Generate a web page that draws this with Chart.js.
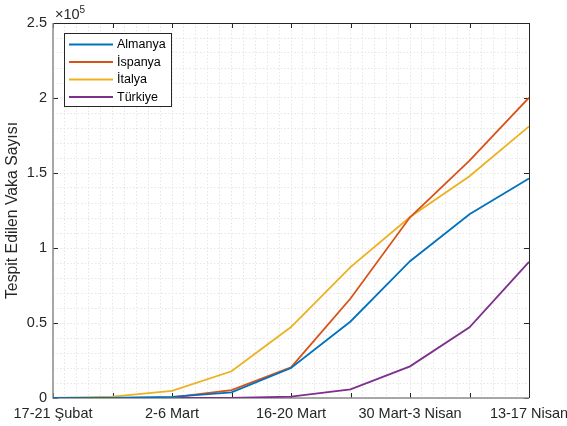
<!DOCTYPE html>
<html>
<head>
<meta charset="utf-8">
<script src="https://cdn.jsdelivr.net/npm/chart.js@4.4.1/dist/chart.umd.min.js"></script>
<style>
  html, body { margin: 0; padding: 0; background: #fff; }
  #wrap { width: 567px; height: 426px; }
</style>
</head>
<body>
<div id="wrap"><canvas id="chart"></canvas></div>
<script>
// Weekly periods (x axis)
const weeks = ["17-21 Şubat", "24-28 Şubat", "2-6 Mart", "9-13 Mart", "16-20 Mart",
    "23-27 Mart", "30 Mart-3 Nisan", "6-10 Nisan", "13-17 Nisan"];

// Confirmed cases
const almanya = [16, 60, 800, 3800, 20000, 51000, 91200, 122500, 146300];
const ispanya = [2, 30, 400, 5300, 20400, 66300, 120500, 158300, 200200];
const italya  = [3, 900, 4700, 17800, 47300, 87300, 120700, 147800, 181100];
const turkiye = [0, 0, 0, 5, 900, 5800, 21100, 47100, 90700];

const seriesNames = ["Almanya", "İspanya", "İtalya", "Türkiye"];
const yTicks = [0, 50000, 100000, 150000, 200000, 250000];

const colors = ["#0072BD", "#D95319", "#EDB120", "#7E2F8E"];
const FONT = "'Liberation Sans', Arial, Helvetica, sans-serif";
const TXT = "#262626";

function toPoints(arr) {
    return arr.map((v, i) => ({ x: i, y: v }));
}

// frame with inward ticks (MATLAB style)
const framePlugin = {
    id: "frame",
    beforeDatasetsDraw(chart) {
        const { ctx, chartArea: a, scales } = chart;
        ctx.save();
        ctx.lineWidth = 1;
        ctx.strokeStyle = TXT;
        const tl = 5;
        ctx.beginPath();
        weeks.forEach((w, i) => {
            const px = Math.round(scales.x.getPixelForValue(i)) + 0.5;
            ctx.moveTo(px, a.bottom); ctx.lineTo(px, a.bottom - tl);
            ctx.moveTo(px, a.top); ctx.lineTo(px, a.top + tl);
        });
        yTicks.forEach(v => {
            const py = Math.round(scales.y.getPixelForValue(v)) + 0.5;
            ctx.moveTo(a.left, py); ctx.lineTo(a.left + tl, py);
            ctx.moveTo(a.right, py); ctx.lineTo(a.right - tl, py);
        });
        ctx.stroke();
        // top and right
        ctx.beginPath();
        ctx.moveTo(a.left, a.top + 0.5); ctx.lineTo(a.right + 0.5, a.top + 0.5);
        ctx.lineTo(a.right + 0.5, a.bottom);
        ctx.stroke();
        // left and bottom
        ctx.strokeStyle = "#8c8c8c";
        ctx.lineWidth = 1.5;
        ctx.beginPath();
        ctx.moveTo(a.left, a.top); ctx.lineTo(a.left, a.bottom);
        ctx.lineTo(a.right, a.bottom);
        ctx.stroke();
        ctx.restore();
    },
    afterDraw(chart) {
        const { ctx, chartArea: a } = chart;
        ctx.save();
        // exponent label
        ctx.fillStyle = TXT;
        ctx.textBaseline = "alphabetic";
        ctx.font = "14.5px " + FONT;
        ctx.fillText("×10", a.left + 2, a.top - 4);
        const w = ctx.measureText("×10").width;
        ctx.font = "10px " + FONT;
        ctx.fillText("5", a.left + 2 + w, a.top - 10);

        // legend box
        const bx = 64.5, by = 33.5, bw = 107, bh = 73;
        ctx.fillStyle = "#fff";
        ctx.fillRect(bx, by, bw, bh);
        ctx.strokeStyle = TXT;
        ctx.lineWidth = 1;
        ctx.strokeRect(bx, by, bw, bh);
        ctx.font = "12.5px " + FONT;
        ctx.textBaseline = "middle";
        chart.data.datasets.forEach((ds, i) => {
            const y = 44.5 + i * 17.5;
            ctx.strokeStyle = ds.borderColor;
            ctx.lineWidth = 1.8;
            ctx.beginPath();
            ctx.moveTo(69, y); ctx.lineTo(113, y);
            ctx.stroke();
            ctx.fillStyle = "#000";
            ctx.fillText(ds.label, 117, y + 0.5);
        });
        ctx.restore();
    }
};

const datasets = [almanya, ispanya, italya, turkiye].map((arr, i) => ({
    label: seriesNames[i],
    data: toPoints(arr),
    borderColor: colors[i],
    backgroundColor: colors[i],
    borderWidth: 1.8,
    pointRadius: 0,
    tension: 0,
    fill: false
}));

new Chart(document.getElementById("chart"), {
    type: "line",
    data: { datasets: datasets },
    options: {
        responsive: true,
        maintainAspectRatio: false,
        animation: false,
        layout: { padding: { left: 0, top: 23, right: 38, bottom: 0 } },
        plugins: {
            legend: { display: false },
            tooltip: { enabled: false }
        },
        scales: {
            x: {
                type: "linear",
                min: 0,
                max: weeks.length - 1,
                afterFit(scale) {
                    scale.height = 28;
                    scale.paddingLeft = 0;
                    scale.paddingRight = 0;
                },
                border: { display: false, dash: [1.5, 2] },
                grid: { color: "#e6e6e6", lineWidth: 1, drawTicks: false },
                ticks: {
                    stepSize: 0.2,
                    autoSkip: false,
                    maxRotation: 0,
                    padding: 7,
                    color: TXT,
                    font: { family: FONT, size: 14.5 },
                    callback(v) {
                        const r = Math.round(v);
                        if (Math.abs(v - r) < 1e-6 && r % 2 === 0) return weeks[r];
                        return "";
                    }
                }
            },
            y: {
                type: "linear",
                min: 0,
                max: 250000,
                afterFit(scale) {
                    scale.width = 53;
                    scale.paddingTop = 0;
                    scale.paddingBottom = 0;
                },
                border: { display: false, dash: [1.5, 2] },
                grid: { color: "#e6e6e6", lineWidth: 1, drawTicks: false },
                title: {
                    display: true,
                    text: "Tespit Edilen Vaka Sayısı",
                    color: TXT,
                    font: { family: FONT, size: 15.8 },
                    padding: { top: 3, bottom: 3 }
                },
                ticks: {
                    stepSize: 10000,
                    autoSkip: false,
                    padding: 6,
                    color: TXT,
                    font: { family: FONT, size: 14.5 },
                    callback(v) {
                        if (v % 50000 === 0) return String(v / 100000);
                        return "";
                    }
                }
            }
        }
    },
    plugins: [framePlugin]
});
</script>
</body>
</html>
